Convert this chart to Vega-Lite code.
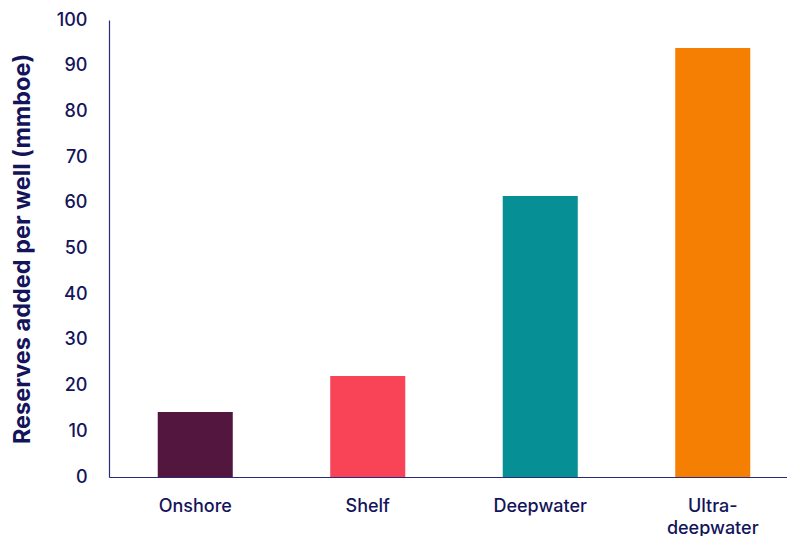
{
  "$schema": "https://vega.github.io/schema/vega-lite/v6.json",
  "autosize": {"type": "none"},
  "padding": {"left": 109, "top": 20, "right": 0, "bottom": 59},
  "width": 690,
  "height": 457,
  "background": "white",
  "config": {
    "view": {"stroke": null},
    "font": "Inter",
    "axis": {"labelFont": "Inter", "titleFont": "Inter", "labelColor": "#14145a", "titleColor": "#14145a", "domainColor": "#2a2a78"}
  },
  "data": {
    "values": [
      {"type": "Onshore", "value": 14.2},
      {"type": "Shelf", "value": 22.1},
      {"type": "Deepwater", "value": 61.5},
      {"type": "Ultra-deepwater", "value": 93.9}
    ]
  },
  "mark": {"type": "bar"},
  "encoding": {
    "x": {
      "field": "type",
      "type": "nominal",
      "sort": null,
      "scale": {"paddingInner": 0.565, "paddingOuter": 0.2825},
      "axis": {
        "title": null,
        "labelAngle": 0,
        "ticks": false,
        "labelPadding": 20,
        "labelFontSize": 18,
        "labelFontWeight": 500,
        "labelLineHeight": 22,
        "domainWidth": 1.2,
        "labelExpr": "datum.label == 'Ultra-deepwater' ? ['Ultra-', 'deepwater'] : datum.label"
      }
    },
    "y": {
      "field": "value",
      "type": "quantitative",
      "scale": {"domain": [0, 100]},
      "axis": {
        "title": "Reserves added per well (mmboe)",
        "titleFontSize": 23.5,
        "titleFontWeight": "bold",
        "titlePadding": 22,
        "values": [0,10,20,30,40,50,60,70,80,90,100],
        "ticks": false,
        "grid": false,
        "labelOverlap": false,
        "labelFlush": false,
        "labelPadding": 22,
        "labelFontSize": 18,
        "labelFontWeight": 500,
        "domainWidth": 1.2
      }
    },
    "color": {
      "field": "type",
      "type": "nominal",
      "scale": {
        "domain": ["Onshore", "Shelf", "Deepwater", "Ultra-deepwater"],
        "range": ["#53163f", "#f94457", "#078f96", "#f57f02"]
      },
      "legend": null
    }
  }
}
